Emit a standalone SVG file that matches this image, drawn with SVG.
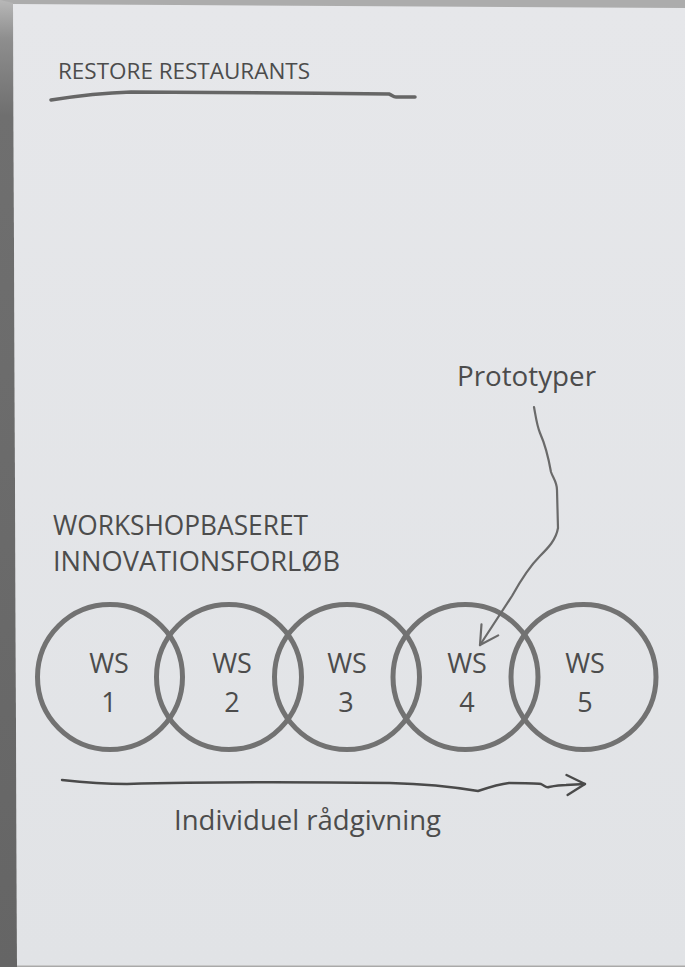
<svg xmlns="http://www.w3.org/2000/svg" width="685" height="967" viewBox="0 0 685 967">
<defs>
<linearGradient id="strip" x1="0" y1="0" x2="0" y2="1">
<stop offset="0" stop-color="#b8b8b8"/>
<stop offset="0.04" stop-color="#8e8e8e"/>
<stop offset="0.12" stop-color="#6f6f6f"/>
<stop offset="1" stop-color="#656565"/>
</linearGradient>
<linearGradient id="paper" x1="0" y1="0" x2="0" y2="1">
<stop offset="0" stop-color="#e6e7ea"/>
<stop offset="1" stop-color="#e1e3e6"/>
</linearGradient>
<marker id="vhead2" markerUnits="userSpaceOnUse" markerWidth="40" markerHeight="40" viewBox="-20 -20 40 40" refX="0" refY="0" orient="auto">
<path d="M-18,-10 L0,0 L-18,10" fill="none" stroke="#4a4a4a" stroke-width="2.4" stroke-linecap="round" stroke-linejoin="round"/>
</marker>
<marker id="vhead1" markerUnits="userSpaceOnUse" markerWidth="40" markerHeight="40" viewBox="-20 -20 40 40" refX="0" refY="0" orient="auto">
<path d="M-18,-10 L0,0 L-18,10" fill="none" stroke="#6a6a6a" stroke-width="2.2" stroke-linecap="round" stroke-linejoin="round"/>
</marker>
</defs>
<style>
.t{font-family:"Open Sans","Liberation Sans",sans-serif;fill:#4c4c4c}
.big{font-size:27px}
.ws{fill:none;stroke:#727272;stroke-width:5}
.mid{text-anchor:middle}
</style>
<rect x="0" y="0" width="685" height="967" fill="#a9a9a9"/>
<polygon points="0,0 685,0 685,8 13,4 13,967 0,967" fill="#acacac"/>
<polygon points="0,0 13,3 17,967 0,967" fill="url(#strip)"/>
<polygon points="13,4 685,8 685,965 17,965" fill="url(#paper)"/>
<line x1="17" y1="965.5" x2="685" y2="965.5" stroke="#c8c8c8" stroke-width="1"/>

<g id="title">
<text class="t" x="58" y="79" font-size="22" textLength="252" lengthAdjust="spacingAndGlyphs">RESTORE RESTAURANTS</text>
<path d="M51,100 C70,97 100,93 131,92 C200,92 300,93 389,94 C392,95 393,97 396,97 L415,97" fill="none" stroke="#666" stroke-width="3.5" stroke-linecap="round"/>
</g>

<g id="prototyper">
<text class="t big" x="457" y="386" textLength="139" lengthAdjust="spacingAndGlyphs">Prototyper</text>
</g>

<g id="workshop-label">
<text class="t big" x="53" y="535" textLength="255" lengthAdjust="spacingAndGlyphs">WORKSHOPBASERET</text>
<text class="t big" x="53" y="571" textLength="287" lengthAdjust="spacingAndGlyphs">INNOVATIONSFORLØB</text>
</g>

<g id="ws1">
<circle class="ws" cx="110" cy="677" r="72.5"/>
<text class="t big mid" x="109" y="673">WS</text>
<text class="t big mid" x="109" y="712">1</text>
</g>
<g id="ws2">
<circle class="ws" cx="229" cy="677" r="72.5"/>
<text class="t big mid" x="232" y="673">WS</text>
<text class="t big mid" x="232" y="712">2</text>
</g>
<g id="ws3">
<circle class="ws" cx="347" cy="677" r="72.5"/>
<text class="t big mid" x="347" y="673">WS</text>
<text class="t big mid" x="346" y="712">3</text>
</g>
<g id="ws4">
<circle class="ws" cx="465.5" cy="677" r="72.5"/>
<text class="t big mid" x="467" y="673">WS</text>
<text class="t big mid" x="467" y="712">4</text>
</g>
<g id="ws5">
<circle class="ws" cx="583.5" cy="677" r="72.5"/>
<text class="t big mid" x="585" y="673">WS</text>
<text class="t big mid" x="585" y="712">5</text>
</g>

<g id="individuel">
<text class="t big" x="174" y="830" textLength="267" lengthAdjust="spacingAndGlyphs">Individuel rådgivning</text>
</g>

<g id="connectors" fill="none" stroke-linecap="round" stroke-linejoin="round">
<path d="M534,407 C536,418 537,426 540,433 C544,442 548,455 551,472 C553,478 557,482 557,490 L558,528 C556,540 548,548 540,556 C532,564 522,578 512,596 L480,645" stroke="#6a6a6a" stroke-width="2.2" marker-end="url(#vhead1)"/>
<path d="M62,780 C80,782 100,784 127,784 C200,782 300,782 390,783 C430,784 460,788 478,791 C490,787 500,784 509,783 C520,783 535,783 541,784 C545,786 546,788 549,787 C554,786 560,785 566,785 L585,784" stroke="#4a4a4a" stroke-width="2.4" marker-end="url(#vhead2)"/>
</g>
</svg>
